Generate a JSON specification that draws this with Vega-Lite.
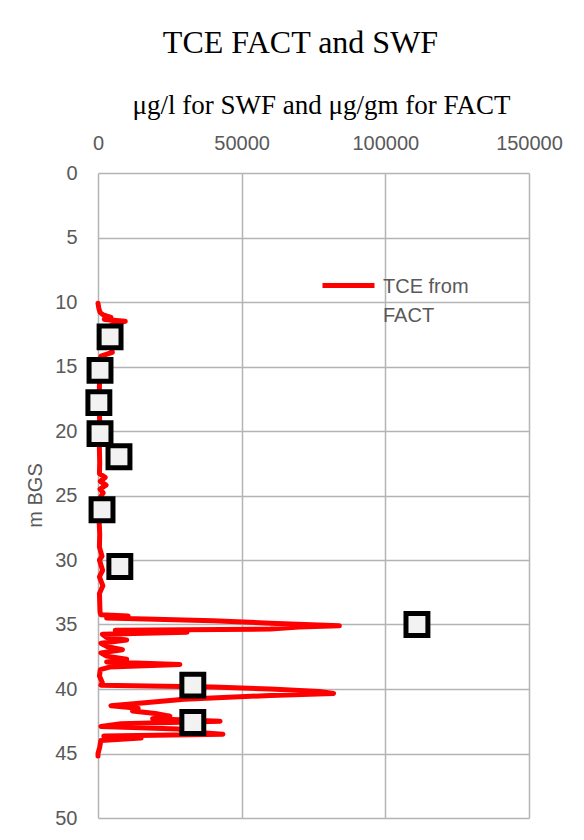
{
  "$schema": "https://vega.github.io/schema/vega-lite/v6.json",
  "width": 431,
  "height": 645,
  "autosize": {"type": "none"},
  "padding": {"left": 98, "top": 173, "right": 55, "bottom": 22},
  "background": "white",
  "title": {
    "text": "TCE FACT and SWF",
    "font": "Liberation Serif",
    "fontSize": 32,
    "fontWeight": "normal",
    "color": "black",
    "anchor": "middle",
    "dx": -13,
    "offset": 31
  },
  "config": {
    "view": {"stroke": null},
    "axis": {
      "gridColor": "#b4b4b4",
      "gridWidth": 1.5,
      "domain": false,
      "ticks": false,
      "labelFont": "Liberation Sans",
      "labelFontSize": 20,
      "labelColor": "#595959",
      "titleColor": "#595959",
      "titleFontWeight": "normal"
    }
  },
  "datasets": {
    "fact": [
      {"depth": 10.1, "tce": 0},
      {"depth": 10.5, "tce": 300},
      {"depth": 10.8, "tce": 700},
      {"depth": 11.0, "tce": 1800},
      {"depth": 11.2, "tce": 4500},
      {"depth": 11.35, "tce": 2200},
      {"depth": 11.5, "tce": 9500},
      {"depth": 11.7, "tce": 5000},
      {"depth": 12.0, "tce": 4000},
      {"depth": 12.5, "tce": 3500},
      {"depth": 13.0, "tce": 3000},
      {"depth": 13.5, "tce": 4500},
      {"depth": 13.9, "tce": 5000},
      {"depth": 14.2, "tce": 1000},
      {"depth": 14.6, "tce": 500},
      {"depth": 15.5, "tce": 600},
      {"depth": 16.5, "tce": 500},
      {"depth": 17.5, "tce": 400},
      {"depth": 18.5, "tce": 500},
      {"depth": 19.5, "tce": 600},
      {"depth": 20.5, "tce": 400},
      {"depth": 21.5, "tce": 500},
      {"depth": 22.5, "tce": 600},
      {"depth": 23.3, "tce": 500},
      {"depth": 23.6, "tce": 2500},
      {"depth": 23.9, "tce": 800},
      {"depth": 24.2, "tce": 2800},
      {"depth": 24.5, "tce": 700},
      {"depth": 24.8, "tce": 1800},
      {"depth": 25.2, "tce": 600},
      {"depth": 26.0, "tce": 500},
      {"depth": 27.0, "tce": 400},
      {"depth": 28.0, "tce": 600},
      {"depth": 29.0, "tce": 500},
      {"depth": 29.7, "tce": 1400},
      {"depth": 30.0, "tce": 500},
      {"depth": 30.8, "tce": 1600},
      {"depth": 31.3, "tce": 500},
      {"depth": 32.0, "tce": 1700},
      {"depth": 32.6, "tce": 500},
      {"depth": 33.3, "tce": 600},
      {"depth": 34.0, "tce": 700},
      {"depth": 34.25, "tce": 1000},
      {"depth": 34.35, "tce": 10500},
      {"depth": 34.5, "tce": 3000},
      {"depth": 34.7, "tce": 40000},
      {"depth": 34.9, "tce": 60000},
      {"depth": 35.1, "tce": 84000},
      {"depth": 35.2, "tce": 70000},
      {"depth": 35.35, "tce": 60000},
      {"depth": 35.45, "tce": 6000},
      {"depth": 35.6, "tce": 31000},
      {"depth": 35.75, "tce": 1500},
      {"depth": 36.0, "tce": 3000},
      {"depth": 36.2, "tce": 10000},
      {"depth": 36.45, "tce": 1000},
      {"depth": 36.7, "tce": 3000},
      {"depth": 36.95, "tce": 8500},
      {"depth": 37.2, "tce": 1000},
      {"depth": 37.45, "tce": 3000},
      {"depth": 37.7, "tce": 10000},
      {"depth": 37.9, "tce": 3000},
      {"depth": 38.1, "tce": 28500},
      {"depth": 38.3, "tce": 4000},
      {"depth": 38.5, "tce": 800},
      {"depth": 39.0, "tce": 500},
      {"depth": 39.5, "tce": 1500},
      {"depth": 39.7, "tce": 1000},
      {"depth": 39.85, "tce": 40000},
      {"depth": 40.0, "tce": 60000},
      {"depth": 40.2, "tce": 77000},
      {"depth": 40.35, "tce": 82000},
      {"depth": 40.5, "tce": 60000},
      {"depth": 40.8, "tce": 30000},
      {"depth": 41.3, "tce": 4500},
      {"depth": 41.5, "tce": 14000},
      {"depth": 41.7, "tce": 12000},
      {"depth": 41.9, "tce": 20000},
      {"depth": 42.1, "tce": 25000},
      {"depth": 42.3, "tce": 19000},
      {"depth": 42.5, "tce": 42500},
      {"depth": 42.7, "tce": 8000},
      {"depth": 42.9, "tce": 1000},
      {"depth": 43.1, "tce": 28000},
      {"depth": 43.3, "tce": 30000},
      {"depth": 43.5, "tce": 43500},
      {"depth": 43.65, "tce": 2000},
      {"depth": 43.8, "tce": 15000},
      {"depth": 44.0, "tce": 1000},
      {"depth": 44.5, "tce": 600},
      {"depth": 45.0, "tce": 0},
      {"depth": 45.2, "tce": 0}
    ],
    "swf": [
      {"depth": 12.7, "tce": 4200},
      {"depth": 15.3, "tce": 700},
      {"depth": 17.8, "tce": 300},
      {"depth": 20.2, "tce": 700},
      {"depth": 22.0, "tce": 7300},
      {"depth": 26.1, "tce": 1400},
      {"depth": 30.5, "tce": 7600},
      {"depth": 35.0, "tce": 111000},
      {"depth": 39.7, "tce": 33000},
      {"depth": 42.6, "tce": 33000}
    ]
  },
  "layer": [
    {
      "data": {"name": "fact"},
      "mark": {"type": "line", "strokeWidth": 5, "strokeCap": "round", "strokeJoin": "round"},
      "encoding": {
        "x": {
          "field": "tce",
          "type": "quantitative",
          "scale": {"domain": [0, 150000], "nice": false},
          "axis": {
            "orient": "top",
            "values": [0, 50000, 100000, 150000],
            "format": "d",
            "labelFlush": false,
            "labelPadding": 20,
            "title": "μg/l for SWF and μg/gm for FACT",
            "titleFont": "Liberation Serif",
            "titleFontSize": 27,
            "titleColor": "black",
            "titleX": 223,
            "titleY": -60,
            "titleBaseline": "alphabetic"
          }
        },
        "y": {
          "field": "depth",
          "type": "quantitative",
          "scale": {"domain": [0, 50], "reverse": true, "nice": false},
          "axis": {
            "values": [0, 5, 10, 15, 20, 25, 30, 35, 40, 45, 50],
            "labelPadding": 21,
            "title": "m BGS",
            "titleFont": "Liberation Sans",
            "titleFontSize": 20,
            "titleX": -63,
            "titleY": 322,
            "titleAngle": -90,
            "titleAlign": "center",
            "titleBaseline": "middle"
          }
        },
        "order": {"field": "depth", "type": "quantitative"},
        "color": {
          "datum": "TCE from FACT",
          "scale": {"range": ["#ff0000"]},
          "legend": {
            "title": null,
            "orient": "none",
            "legendX": 222,
            "legendY": 84,
            "symbolType": "stroke",
            "symbolSize": 2704,
            "symbolStrokeWidth": 5,
            "labelFont": "Liberation Sans",
            "labelFontSize": 20,
            "labelColor": "#595959",
            "labelOffset": 6,
            "labelExpr": "['TCE from', 'FACT']",
            "labelBaseline": "alphabetic",
            "labelLimit": 300,
            "encode": {"labels": {"update": {"lineHeight": {"value": 29}, "dy": {"value": 7}}}}
          }
        }
      }
    },
    {
      "data": {"name": "swf"},
      "mark": {"type": "point", "shape": "square", "filled": false, "size": 480, "strokeWidth": 5, "stroke": "black", "fill": "#f2f2f2", "fillOpacity": 1, "opacity": 1},
      "encoding": {
        "x": {"field": "tce", "type": "quantitative"},
        "y": {"field": "depth", "type": "quantitative"}
      }
    }
  ]
}
